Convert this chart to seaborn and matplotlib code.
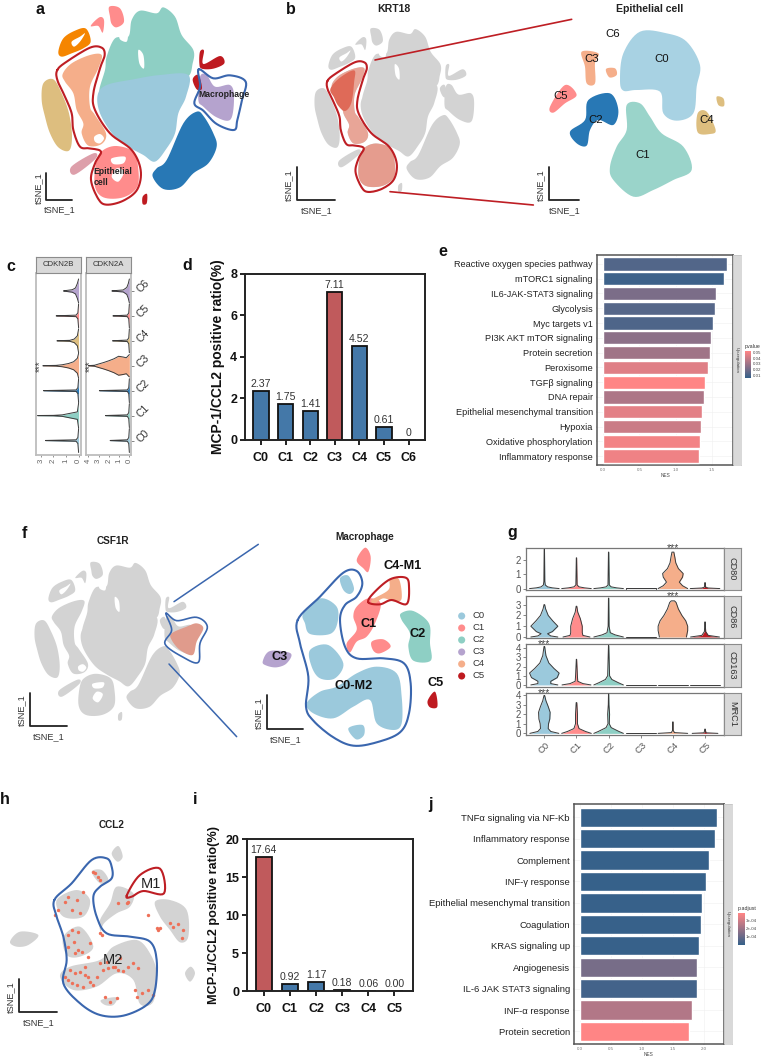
import numpy as np
import matplotlib
matplotlib.use("Agg")
import matplotlib.pyplot as plt
import seaborn as sns
from matplotlib.colors import LinearSegmentedColormap

sns.set_theme(style="white")
plt.rcParams['font.family'] = ['Liberation Sans', 'DejaVu Sans']

W, H = 764, 1057
fig = plt.figure(figsize=(W / 100, H / 100), dpi=100)


def px_axes(x0, y0, x1, y1, **kw):
    return fig.add_axes([x0 / W, 1 - y1 / H, (x1 - x0) / W, (y1 - y0) / H], **kw)


def smooth(pts, n=8):
    # closed curve through the hand-read outline points
    p = np.array(pts, dtype=float)
    t = np.linspace(0, 1, n, endpoint=False)[:, None]
    out = []
    for i in range(len(p)):
        a, b, c, d = p[i - 1], p[i], p[(i + 1) % len(p)], p[(i + 2) % len(p)]
        out.append(0.5 * (2 * b + (c - a) * t + (2 * a - 5 * b + 4 * c - d) * t ** 2 + (3 * b - a - 3 * c + d) * t ** 3))
    p = np.vstack(out)
    return np.vstack([p, p[:1]])


def blob(ax, pts, color, zorder=2):
    s = smooth(pts)
    ax.fill(s[:, 0], s[:, 1], color=color, lw=0, zorder=zorder)


def outline(ax, pts, color, lw=1.5, zorder=5):
    s = smooth(pts)
    ax.plot(s[:, 0], s[:, 1], color=color, lw=lw, zorder=zorder, solid_capstyle='round')


def scale_bar(ax, x0, y0, x1, y1, color='#222222', fs=6.6):
    ax.plot([x0, x0, x1], [y0, y1, y1], color=color, lw=1.3, zorder=6)
    ax.text((x0 + x1) / 2 + 2, y1 + (y1 - y0) * 0.13 + 6, 'tSNE_1', ha='center', va='top', fontsize=fs, color='#333333')
    ax.text(x0 - (x1 - x0) * 0.08 - 3, (y0 + y1) / 2 + 3, 'tSNE_1', ha='right', va='center', rotation=90, fontsize=fs, color='#333333')


def overlay(x0, y0, x1, y1):
    ax = px_axes(x0, y0, x1, y1)
    ax.set_xlim(0, (x1 - x0) * 3)
    ax.set_ylim((y1 - y0) * 3, 0)
    ax.axis('off')
    ax.patch.set_alpha(0)
    return ax


# ---- colours
col_teal, col_lblue, col_orange, col_tan = '#8ECFC4', '#9BC9DC', '#F58500', '#DDBE7F'
col_peach, col_salmon, col_dusty, col_blue = '#F5AE8A', '#FF8C8C', '#DD9FAA', '#2878B5'
col_lav, col_dred = '#B5A3CE', '#BE1A20'
col_gray = '#D3D3D3'
bar_blue, bar_red = '#4478A8', '#C05A5C'
line_red, line_blue = '#BE1E24', '#3A66AE'
low_col, high_col = '#36618A', '#FF8585'

# ---- global tSNE cluster outlines
ts_teal = [(320, 170), (345, 115), (385, 110), (395, 60), (420, 32), (470, 40), (490, 22), (525, 50), (545, 105), (580, 150), (578, 190), (560, 232), (480, 232), (400, 245), (330, 270), (298, 275), (315, 210)]
ts_lblue = [(293, 285), (320, 255), (400, 238), (480, 225), (565, 225), (558, 290), (535, 340), (525, 400), (500, 445), (465, 485), (430, 465), (385, 440), (340, 405), (300, 340)]
ts_orange = [(175, 155), (190, 115), (225, 92), (258, 86), (272, 125), (250, 145), (215, 160), (185, 170)]
ts_tan = [(125, 300), (130, 250), (160, 238), (185, 280), (207, 340), (216, 410), (207, 452), (175, 442), (150, 400), (135, 350)]
ts_peach = [(188, 222), (215, 190), (270, 165), (305, 165), (295, 205), (270, 260), (270, 320), (285, 345), (318, 400), (305, 432), (265, 437), (245, 400), (250, 370), (230, 330), (220, 280), (195, 245)]
ts_salmon = [(310, 450), (350, 438), (400, 455), (414, 500), (412, 560), (370, 592), (310, 592), (284, 555), (290, 480)]
ts_pink1 = [(328, 20), (360, 25), (372, 65), (350, 82), (335, 72), (330, 50)]
ts_pink2 = [(272, 78), (298, 52), (312, 60), (308, 98), (295, 78)]
ts_dusty = [(214, 500), (280, 460), (287, 476), (224, 524)]
ts_dblue = [(500, 480), (550, 370), (590, 335), (612, 350), (640, 400), (650, 440), (625, 490), (580, 520), (540, 562), (490, 567), (458, 530), (470, 505)]
ts_lav = [(600, 230), (620, 225), (645, 260), (690, 255), (702, 290), (692, 358), (650, 352), (610, 320), (595, 300)]
ts_dred1 = [(600, 155), (612, 152), (610, 192), (660, 168), (673, 190), (640, 206), (605, 206), (598, 190)]
ts_dred2 = [(578, 238), (595, 225), (606, 265), (590, 268)]
ts_dred3 = [(428, 590), (441, 582), (440, 610), (428, 612)]
ts_clusters = [ts_teal, ts_lblue, ts_orange, ts_tan, ts_peach, ts_salmon, ts_pink1, ts_pink2, ts_dusty, ts_dblue, ts_lav, ts_dred1, ts_dred2, ts_dred3]
ts_colors = [col_teal, col_lblue, col_orange, col_tan, col_peach, col_salmon, col_salmon, col_salmon, col_dusty, col_blue, col_lav, col_dred, col_dred, col_dred]
ts_holes = [[(283, 410), (300, 402), (312, 415), (300, 430), (285, 425)], [(335, 475), (375, 470), (370, 490), (340, 492)],
            [(350, 505), (372, 515), (355, 545), (335, 530)], [(415, 150), (430, 165), (432, 205), (418, 190)],
            [(360, 100), (382, 100), (380, 125), (360, 118)], [(215, 125), (240, 110), (255, 100), (240, 125), (222, 140)]]
epi_outline = [(172, 210), (200, 185), (270, 143), (305, 143), (314, 165), (300, 205), (280, 280), (285, 330), (330, 400), (395, 450), (422, 510), (412, 568), (370, 602), (320, 614), (295, 597), (273, 540), (285, 490), (303, 455), (270, 445), (240, 440), (220, 390), (215, 340), (195, 290), (172, 240)]
mac_outline = [(596, 208), (640, 235), (690, 226), (737, 245), (726, 300), (712, 360), (702, 390), (650, 372), (610, 332), (583, 310), (600, 260)]

# ---- panel a
ax_a = overlay(0, 0, 270, 235)
for pts, c in zip(ts_clusters, ts_colors):
    blob(ax_a, pts, c)
for pts in ts_holes:
    blob(ax_a, pts, 'white', zorder=3)
outline(ax_a, epi_outline, line_red)
outline(ax_a, mac_outline, line_blue)
ax_a.text(595, 283, 'Macrophage', fontsize=6.2, fontweight='bold', va='center', color='#222222', zorder=7)
ax_a.text(281, 530, 'Epithelial\ncell', fontsize=6.2, fontweight='bold', va='center', color='#222222', linespacing=1.3, zorder=7)
scale_bar(ax_a, 137, 520, 215, 600)

# ---- panel b, left: same map, KRT18 feature colouring
krt_hot = [(182, 240), (215, 200), (268, 172), (268, 215), (258, 290), (235, 320), (210, 300), (195, 270)]
ax_bl = px_axes(280, 23, 504, 217)
ax_bl.set_xlim(0, 810)
ax_bl.set_ylim(705, 0)
ax_bl.axis('off')
for pts in ts_clusters:
    blob(ax_bl, pts, col_gray)
for pts in ts_holes:
    blob(ax_bl, pts, 'white', zorder=3)
blob(ax_bl, ts_peach, '#E8A597', zorder=3)
blob(ax_bl, ts_salmon, '#E59C8E', zorder=3)
blob(ax_bl, krt_hot, '#DF6A58', zorder=4)
outline(ax_bl, epi_outline, line_red, zorder=6)

# ---- panel b, right: epithelial subclusters (read in a 3x grid of this region)
ep_c0 = [(1050, 240), (1060, 160), (1110, 95), (1190, 100), (1250, 125), (1290, 195), (1280, 260), (1270, 340), (1220, 362), (1180, 340), (1170, 275), (1100, 270), (1060, 272)]
ep_c1 = [(1070, 315), (1110, 310), (1140, 350), (1175, 400), (1240, 440), (1265, 510), (1210, 540), (1150, 570), (1090, 590), (1030, 540), (1020, 500), (1040, 440), (1070, 390)]
ep_c2 = [(955, 300), (1020, 280), (1045, 330), (1030, 375), (985, 360), (960, 390), (950, 437), (920, 430), (900, 395), (945, 360)]
ep_c3a = [(935, 155), (985, 160), (975, 190), (975, 250), (950, 250), (945, 200)]
ep_c3b = [(1008, 207), (1035, 205), (1040, 225), (1018, 232)]
ep_c4a = [(1283, 340), (1310, 335), (1337, 390), (1320, 402), (1283, 397)]
ep_c4b = [(1340, 290), (1360, 295), (1362, 318), (1345, 315)]
ep_c5 = [(840, 320), (885, 255), (920, 285), (885, 310), (850, 338)]
ep_labels = ['C0', 'C1', 'C2', 'C3', 'C4', 'C5', 'C6']
ep_label_x = [1176, 1118, 978, 966, 1310, 873, 1027]
ep_label_y = [178, 465, 360, 178, 360, 288, 102]

ov_b = overlay(270, 0, 764, 235)
blob(ov_b, ep_c0, '#A8D2E3')
blob(ov_b, ep_c1, '#9AD4CA')
blob(ov_b, ep_c2, col_blue)
blob(ov_b, ep_c3a, col_peach)
blob(ov_b, ep_c3b, col_peach)
blob(ov_b, ep_c4a, col_tan)
blob(ov_b, ep_c4b, col_tan)
blob(ov_b, ep_c5, col_salmon)
for t, x, y in zip(ep_labels, ep_label_x, ep_label_y):
    ov_b.text(x, y, t, fontsize=8.2, ha='center', va='center', color='#111111', zorder=7)
ov_b.plot([315, 905], [180, 58], color=line_red, lw=1.2, zorder=7)
ov_b.plot([360, 790], [575, 615], color=line_red, lw=1.2, zorder=7)
ov_b.text(372, 27, 'KRT18', fontsize=7.6, fontweight='bold', ha='center', va='center', color='#222222')
ov_b.text(1140, 27, 'Epithelial cell', fontsize=7.6, fontweight='bold', ha='center', va='center', color='#222222')
scale_bar(ov_b, 82, 502, 195, 600)
scale_bar(ov_b, 836, 502, 928, 600)

# ---- panel c: horizontal violins, each pair is (expression, half width)
c_labels = ['C0', 'C1', 'C2', 'C3', 'C4', 'C5', 'C6']
c_colors = [col_lblue, col_teal, col_blue, col_peach, col_tan, col_salmon, col_lav]
cdkn2b_ends = [2.63, 3.26, 2.79, 2.84, 1.72, 1.78, 1.2]
cdkn2a_ends = [1.87, 2.33, 2.92, 4.0, 1.64, 1.6, 1.7]
cdkn2b_c1 = [(0, .5), (.1, .15), (.3, .13), (.8, .08), (1.3, .03), (2, .01), (3.26, .004)]
cdkn2b_c3 = [(0, .5), (.1, .3), (.4, .16), (.8, .09), (1.3, .04), (1.8, .015), (2.84, .005)]
cdkn2b_c4 = [(0, .48), (.1, .2), (.35, .07), (.7, .02), (1.72, .004)]
cdkn2b_c6 = [(0, .48), (.1, .3), (.25, .12), (.5, .05), (1.2, .005)]
cdkn2a_c3 = [(0, .45), (.3, .32), (.6, .35), (1.05, .38), (1.5, .28), (2, .2), (2.5, .13), (3, .07), (3.4, .02), (4, .005)]
cdkn2a_c6 = [(0, .48), (.1, .3), (.25, .14), (.6, .04), (1.7, .005)]


def thin_violin(end):
    return [(0, .48), (.06, .12), (.2, .03), (end, .004)]


def draw_violin(ax, pos, profile, color, horizontal=False):
    v = np.array([p[0] for p in profile])
    w = np.array([p[1] for p in profile])
    if horizontal:
        ax.fill_between(v, pos - w, pos + w, color=color, lw=0, zorder=2)
        ax.plot(np.r_[v, v[::-1]], np.r_[pos - w, (pos + w)[::-1]], color='#3A3A3A', lw=0.7, zorder=3)
    else:
        ax.fill_betweenx(v, pos - w, pos + w, color=color, lw=0, zorder=2)
        ax.plot(np.r_[pos - w, (pos + w)[::-1]], np.r_[v, v[::-1]], color='#3A3A3A', lw=0.7, zorder=3)


def strip(x0, y0, x1, y1, text, rotation=0, fs=5.6, color='#D9D9D9', edge='#8C8C8C', lw=0.8):
    s = px_axes(x0, y0, x1, y1)
    s.set_facecolor(color)
    s.set_xticks([])
    s.set_yticks([])
    for sp in s.spines.values():
        sp.set_color(edge)
        sp.set_linewidth(lw)
    s.text(0.5, 0.5, text, transform=s.transAxes, ha='center', va='center', rotation=rotation, fontsize=fs, color='#333333')
    return s


special_b = {1: cdkn2b_c1, 3: cdkn2b_c3, 4: cdkn2b_c4, 6: cdkn2b_c6}
special_a = {3: cdkn2a_c3, 6: cdkn2a_c6}
for box, gene, ends, special, lim, ticks in [((36, 273, 81, 455), 'CDKN2B', cdkn2b_ends, special_b, (3.39, -.19), [3, 2, 1, 0]),
                                             ((86, 273, 131, 455), 'CDKN2A', cdkn2a_ends, special_a, (4.23, -.16), [4, 3, 2, 1, 0])]:
    ax = px_axes(*box)
    for i, end in enumerate(ends):
        draw_violin(ax, i, special.get(i, thin_violin(end)), c_colors[i], horizontal=True)
    ax.set_xlim(*lim)
    ax.set_ylim(-0.58, 6.72)
    ax.set_xticks(ticks)
    ax.set_xticklabels(ticks, rotation=90, fontsize=5.6, color='#666666')
    ax.tick_params(axis='x', length=1.5, width=.5, pad=1, color='#666666', bottom=True)
    ax.spines['top'].set_visible(False)
    for k in ['left', 'right', 'bottom']:
        ax.spines[k].set_color('#BDBDBD')
        ax.spines[k].set_linewidth(1.3)
    if gene == 'CDKN2A':
        ax.yaxis.tick_right()
        ax.set_yticks(range(7))
        ax.set_yticklabels(c_labels, rotation=45, rotation_mode='anchor', fontsize=7.6, color='#333333', va='center', ha='left')
        ax.tick_params(axis='y', length=2, width=.5, pad=3, right=True, color='#555555')
    else:
        ax.set_yticks([])
    ax.text(lim[0] - (lim[0] - lim[1]) * 0.095, 3, '***', rotation=90, fontsize=7, ha='center', va='center', color='#444444')
    strip(box[0], 257, box[2], 273, gene)


# ---- bars d and i
def ratio_bars(box, labels, values, hot, fmt, ylim, yticks, xlim, yfs):
    ax = px_axes(*box)
    d_colors = [bar_red if i == hot else bar_blue for i in range(len(labels))]
    sns.barplot(x=labels, y=values, hue=labels, palette=d_colors, legend=False, ax=ax, width=0.62,
                edgecolor='#111111', linewidth=1.3, saturation=1)
    for i, (v, t) in enumerate(zip(values, fmt)):
        ax.text(i, v + ylim[1] * 0.012, t, ha='center', va='bottom', fontsize=7.6, color='#333333')
    ax.set_xlim(*xlim)
    ax.set_ylim(*ylim)
    ax.set_yticks(yticks)
    ax.set_ylabel('MCP-1/CCL2 positive ratio(%)', fontsize=yfs, fontweight='bold', color='#111111', labelpad=4)
    ax.tick_params(axis='x', length=3.5, width=1.3, color='#111111', bottom=True, pad=5)
    ax.tick_params(axis='y', length=3.5, width=1.3, color='#111111', left=True, pad=2)
    for lab in ax.get_xticklabels() + ax.get_yticklabels():
        lab.set_fontweight('bold')
        lab.set_fontsize(9)
        lab.set_color('#111111')
    for sp in ax.spines.values():
        sp.set_color('#222222')
        sp.set_linewidth(1.4)
    return ax


d_labels = ['C0', 'C1', 'C2', 'C3', 'C4', 'C5', 'C6']
d_values = [2.37, 1.75, 1.41, 7.11, 4.52, 0.61, 0]
d_text = ['2.37', '1.75', '1.41', '7.11', '4.52', '0.61', '0']
ratio_bars((245, 273.5, 425, 440), d_labels, d_values, 3, d_text, (0, 8), [0, 2, 4, 6, 8], (-.65, 6.67), 10)

i_labels = ['C0', 'C1', 'C2', 'C3', 'C4', 'C5']
i_values = [17.64, 0.92, 1.17, 0.18, 0.06, 0.00]
i_text = ['17.64', '0.92', '1.17', '0.18', '0.06', '0.00']
ratio_bars((246.7, 839, 412.7, 991), i_labels, i_values, 0, i_text, (0, 20), [0, 5, 10, 15, 20], (-.65, 5.7), 9.1)


# ---- GSEA bars e and j
def gsea_bars(box, terms, nes, pvals, vmin, vmax, xlim, xticks, strip_w, fs):
    ax = px_axes(*box)
    cmap = LinearSegmentedColormap.from_list('gsea', [low_col, high_col])
    colors = [cmap((p - vmin) / (vmax - vmin)) for p in pvals]
    sns.barplot(x=nes, y=terms, hue=terms, palette=colors, legend=False, ax=ax, width=0.9, saturation=1, orient='h', zorder=3)
    ax.set_xlim(*xlim)
    ax.set_ylim(len(terms) - 0.4, -0.6)
    ax.set_xticks(xticks)
    ax.set_xticklabels(['%.1f' % t for t in xticks], fontsize=3.2, color='#777777')
    ax.tick_params(axis='x', length=1, width=.3, pad=1, bottom=True, color='#777777')
    ax.tick_params(axis='y', length=1, width=.3, pad=2, left=True, color='#777777')
    ax.set_xlabel('NES', fontsize=3.4, color='#444444', labelpad=1)
    ax.set_ylabel('')
    ax.grid(True, color='#F0F0F0', lw=.4)
    ax.set_axisbelow(True)
    for lab in ax.get_yticklabels():
        lab.set_fontsize(fs)
        lab.set_color('#222222')
    for sp in ax.spines.values():
        sp.set_color('#555555')
        sp.set_linewidth(1.1)
    strip(box[2], box[1], box[2] + strip_w, box[3], 'Up-regulation', rotation=-90, fs=3.2, edge='#BBBBBB', lw=.4)
    return cmap


def gsea_legend(x0, y0, x1, y1, cmap, title, labels, fracs):
    cb = px_axes(x0, y0, x1, y1)
    cb.imshow(np.linspace(1, 0, 64)[:, None], aspect='auto', cmap=cmap, extent=(0, 1, 0, 1))
    cb.set_xticks([])
    cb.yaxis.tick_right()
    cb.set_yticks(fracs)
    cb.set_yticklabels(labels, fontsize=3.2, color='#444444')
    cb.tick_params(axis='y', length=0, pad=1)
    for sp in cb.spines.values():
        sp.set_visible(False)
    cb.text(0, 1.06, title, transform=cb.transAxes, fontsize=3.8, color='#333333', va='bottom', ha='left')


e_terms = ['Reactive oxygen species pathway', 'mTORC1 signaling', 'IL6-JAK-STAT3 signaling', 'Glycolysis', 'Myc targets v1',
           'PI3K AKT mTOR signaling', 'Protein secretion', 'Peroxisome', 'TGFβ signaling', 'DNA repair',
           'Epithelial mesenchymal transition', 'Hypoxia', 'Oxidative phosphorylation', 'Inflammatory response']
e_nes = [1.71, 1.67, 1.56, 1.55, 1.52, 1.49, 1.48, 1.45, 1.41, 1.39, 1.36, 1.35, 1.34, 1.33]
e_pval = [.008, .003, .018, .009, .007, .022, .027, .042, .05, .03, .043, .037, .047, .046]
cm_e = gsea_bars((597, 255, 733.3, 465), e_terms, e_nes, e_pval, .001, .05, (-.087, 1.8), [0, .5, 1, 1.5], 7.5, 6.6)
gsea_legend(745, 351, 751, 378, cm_e, 'pvalue', ['0.05', '0.04', '0.03', '0.02', '0.01'], [.95, .74, .52, .31, .1])

j_terms = ['TNFα signaling via NF-Kb', 'Inflammatory response', 'Complement', 'INF-γ response', 'Epithelial mesenchymal transition',
           'Coagulation', 'KRAS signaling up', 'Angiogenesis', 'IL-6 JAK STAT3 signaling', 'INF-α response', 'Protein secretion']
j_nes = [2.22, 2.18, 2.09, 2.04, 1.98, 1.96, 1.93, 1.90, 1.90, 1.82, 1.76]
j_padj = [1e-6, 1e-6, 1e-6, 1e-6, 2e-6, 2e-6, 3e-6, 1.25e-4, 2.5e-5, 2.4e-4, 3.9e-4]
cm_j = gsea_bars((574, 804.3, 724, 1044.3), j_terms, j_nes, j_padj, 0, 3.9e-4, (-.097, 2.33), [0, .5, 1, 1.5, 2], 7.7, 6.8)
gsea_legend(737.7, 913, 744, 945, cm_j, 'p.adjust', ['3e-04', '2e-04', '1e-04'], [.78, .53, .28])

# ---- panel f, left: same map, CSF1R
ax_fl = px_axes(0, 557, 224, 745)
ax_fl.set_xlim(0, 810)
ax_fl.set_ylim(705, 0)
ax_fl.axis('off')
for pts in ts_clusters:
    blob(ax_fl, pts, col_gray)
for pts in ts_holes:
    blob(ax_fl, pts, 'white', zorder=3)

# ---- panel f, right: macrophage subclusters
mac_c0a = [(1020, 205), (1045, 197), (1062, 235), (1050, 252), (1030, 240)]
mac_c0b = [(910, 310), (960, 265), (1010, 290), (1012, 340), (990, 372), (930, 372), (915, 340)]
mac_c0c = [(930, 420), (985, 405), (1030, 460), (1005, 505), (960, 505), (935, 470)]
mac_c0d = [(920, 580), (960, 545), (1010, 530), (1070, 490), (1130, 470), (1190, 490), (1205, 560), (1205, 640), (1180, 660), (1130, 640), (1110, 570), (1060, 590), (1000, 625), (940, 610)]
mac_c0e = [(1045, 655), (1088, 645), (1092, 675), (1068, 688)]
mac_c1a = [(1070, 150), (1095, 113), (1112, 140), (1105, 185), (1090, 175)]
mac_c1b = [(1070, 290), (1105, 265), (1142, 280), (1125, 340), (1100, 380), (1070, 395), (1050, 427), (1040, 400), (1070, 360), (1060, 320)]
mac_c1c = [(1115, 395), (1150, 388), (1172, 410), (1140, 430), (1120, 422)]
mac_c2 = [(1203, 310), (1240, 303), (1287, 340), (1290, 400), (1292, 452), (1240, 452), (1225, 410), (1230, 370), (1205, 330)]
mac_c3 = [(788, 455), (810, 423), (872, 430), (860, 460), (830, 472), (800, 467)]
mac_c4 = [(1115, 270), (1165, 240), (1170, 208), (1197, 208), (1205, 265), (1185, 275), (1150, 265), (1125, 280)]
mac_c5 = [(1283, 572), (1305, 545), (1312, 590), (1290, 592)]
mac_blue_outline = [(893, 330), (960, 260), (1030, 188), (1070, 183), (1087, 220), (1070, 260), (1035, 285), (1020, 330), (1035, 410), (1070, 445), (1150, 445), (1212, 460), (1232, 520), (1227, 610), (1200, 667), (1130, 697), (1060, 707), (1000, 682), (940, 632), (918, 590), (925, 500), (900, 400)]
mac_red_outline = [(1105, 277), (1120, 250), (1170, 208), (1217, 203), (1227, 230), (1220, 282), (1175, 270), (1140, 283)]
csf1r_outline = [(498, 310), (530, 332), (590, 322), (622, 350), (600, 400), (595, 457), (550, 442), (495, 402), (515, 360)]
csf1r_patch = [(515, 370), (560, 350), (590, 340), (610, 355), (590, 395), (578, 435), (540, 420), (515, 390)]
mac_legend = ['C0', 'C1', 'C2', 'C3', 'C4', 'C5']
mac_legend_col = [col_lblue, col_salmon, col_teal, col_lav, col_peach, col_dred]
mac_legend_y = [318, 354, 390, 426, 462, 498]

ov_f = overlay(0, 510, 500, 755)
blob(ov_f, csf1r_patch, '#E09B8C', zorder=3)
outline(ov_f, csf1r_outline, line_blue, lw=1.2)
for pts in [mac_c0a, mac_c0b, mac_c0c, mac_c0d, mac_c0e]:
    blob(ov_f, pts, col_lblue)
for pts in [mac_c1a, mac_c1b, mac_c1c]:
    blob(ov_f, pts, col_salmon)
blob(ov_f, mac_c2, col_teal)
blob(ov_f, mac_c3, col_lav)
blob(ov_f, mac_c4, col_peach)
blob(ov_f, mac_c5, col_dred)
outline(ov_f, mac_blue_outline, line_blue)
outline(ov_f, mac_red_outline, line_red)
ov_f.plot([522, 775], [275, 103], color=line_blue, lw=1.1)
ov_f.plot([507, 710], [462, 680], color=line_blue, lw=1.1)
ov_f.text(340, 92, 'CSF1R', fontsize=7.2, fontweight='bold', ha='center', va='center', color='#222222')
ov_f.text(1093, 82, 'Macrophage', fontsize=7.2, fontweight='bold', ha='center', va='center', color='#222222')
for t, x, y, fs in [('C4-M1', 1208, 168, 9.2), ('C1', 1105, 343, 9.2), ('C2', 1254, 371, 9.2), ('C3', 838, 442, 9.2), ('C0-M2', 1062, 528, 9.2), ('C5', 1306, 520, 9.2)]:
    ov_f.text(x, y, t, fontsize=fs, fontweight='bold', ha='center', va='center', color='#111111', zorder=7)
sns.scatterplot(x=[1385] * 6, y=mac_legend_y, hue=mac_legend, palette=mac_legend_col, legend=False, s=26, linewidth=0, ax=ov_f)
for t, y in zip(mac_legend, mac_legend_y):
    ov_f.text(1418, y, t, fontsize=6.8, va='center', color='#333333')
ov_f.set_xlim(0, 1500)
ov_f.set_ylim(735, 0)
ov_f.axis('off')
scale_bar(ov_f, 90, 548, 200, 648)
scale_bar(ov_f, 802, 556, 910, 656)

# ---- panel g: stacked violins
g_genes = ['CD80', 'CD86', 'CD163', 'MRC1']
g_labels = ['C0', 'C1', 'C2', 'C3', 'C4', 'C5']
g_colors = [col_lblue, col_salmon, col_teal, col_lav, col_peach, col_dred]
flat_line = [(0, .46), (.02, .46)]
cd80_c0 = [(0, .46), (.05, .25), (.12, .1), (.25, .03), (.5, .015), (2.75, .005)]
cd80_c1 = [(0, .46), (.05, .25), (.12, .08), (.25, .02), (2.15, .005)]
cd80_c2 = [(0, .46), (.05, .25), (.12, .08), (.25, .02), (2.55, .005)]
cd80_c4 = [(0, .46), (.2, .3), (.45, .2), (.8, .3), (1.05, .32), (1.4, .17), (1.8, .09), (2.2, .06), (2.55, .03)]
cd80_c5 = [(0, .46), (.04, .1), (.1, .02), (.42, .004)]
cd86_c0 = [(0, .42), (.1, .2), (.3, .1), (.5, .25), (1, .42), (1.5, .26), (2, .12), (2.6, .04), (3.0, .01)]
cd86_c1 = [(0, .42), (.15, .2), (.4, .18), (1, .18), (1.7, .12), (2.3, .04), (2.85, .01)]
cd86_c2 = [(0, .46), (.2, .2), (.4, .05), (1, .015), (3.6, .005)]
cd86_c4 = [(0, .42), (.6, .46), (1, .46), (1.5, .4), (2, .28), (2.6, .17), (3.2, .1), (3.35, .05)]
cd86_c5 = [(0, .45), (.15, .1), (.5, .02), (1.4, .005)]
cd163_c0 = [(0, .42), (.15, .2), (.4, .2), (.8, .4), (1.3, .46), (1.8, .3), (2.4, .14), (3.2, .05), (4.2, .01)]
cd163_c1 = [(0, .45), (.15, .2), (.4, .04), (.9, .03), (2.8, .005)]
cd163_c2 = [(0, .46), (.25, .3), (.6, .1), (1., .03), (4.3, .005)]
mrc1_c0 = [(0, .45), (.2, .2), (.5, .12), (1, .13), (1.5, .17), (2.2, .18), (2.8, .12), (3.4, .05), (3.95, .01)]
mrc1_c1 = [(0, .46), (.2, .28), (.5, .08), (1, .03), (2, .03), (3.2, .01)]
mrc1_c2 = [(0, .46), (.2, .32), (.6, .08), (1, .02), (2, .03), (3, .01), (4.1, .004)]
mrc1_c4 = [(0, .46), (.08, .05), (.3, .01), (1.2, .005)]
mrc1_c5 = [(0, .4), (.06, .03), (.45, .004)]
g_profiles = [[cd80_c0, cd80_c1, cd80_c2, flat_line, cd80_c4, cd80_c5],
              [cd86_c0, cd86_c1, cd86_c2, flat_line, cd86_c4, cd86_c5],
              [cd163_c0, cd163_c1, cd163_c2, flat_line, flat_line, flat_line],
              [mrc1_c0, mrc1_c1, mrc1_c2, flat_line, mrc1_c4, mrc1_c5]]
g_ylims = [(-.1, 2.86), (-.12, 3.8), (-.18, 4.44), (-.17, 4.24)]
g_ticks = [[0, 1, 2], [0, 1, 2, 3], [0, 1, 2, 3, 4], [0, 1, 2, 3, 4]]
g_tops = [547.7, 596, 644.3, 692.7]
g_stars = [4, 4, 0, 0]

for r, gene in enumerate(g_genes):
    ax = px_axes(525.7, g_tops[r], 724, g_tops[r] + 42.3)
    for i, prof in enumerate(g_profiles[r]):
        draw_violin(ax, i, prof, g_colors[i])
    ax.set_xlim(-.58, 5.59)
    ax.set_ylim(*g_ylims[r])
    ax.set_yticks(g_ticks[r])
    ax.tick_params(axis='y', labelsize=7, labelcolor='#555555', length=2, width=.5, pad=1.5, left=True, color='#555555')
    ax.set_xticks(range(6))
    if r == 3:
        ax.set_xticklabels(g_labels, rotation=45, fontsize=6.8, color='#555555', ha='center')
        ax.tick_params(axis='x', length=2, width=.5, pad=2, bottom=True, color='#555555')
    else:
        ax.set_xticklabels([])
        ax.tick_params(axis='x', length=0)
    for sp in ax.spines.values():
        sp.set_color('#777777')
        sp.set_linewidth(.9)
    ax.text(g_stars[r], 1.0, '***', transform=ax.get_xaxis_transform(), ha='center', va='center', fontsize=7.5, color='#444444', clip_on=False)
    strip(724, g_tops[r], 741, g_tops[r] + 42.3, gene, rotation=-90, fs=6.6)

# ---- panel h: macrophages, CCL2 positive cells over grey cells
h_top = [(335, 280), (355, 258), (368, 290), (352, 305)]
h_left = [(30, 545), (60, 515), (115, 525), (85, 555), (50, 560)]
h_right = [(555, 640), (572, 620), (585, 640), (570, 665)]
h_c1 = [(330, 430), (350, 380), (400, 400), (390, 440), (350, 460), (312, 490), (302, 515), (300, 480)]
h_c2 = [(465, 425), (510, 420), (560, 450), (565, 530), (540, 547), (510, 510), (480, 470)]
h_c0a = [(170, 420), (230, 390), (270, 420), (250, 470), (190, 470)]
h_c0b = [(190, 530), (240, 500), (280, 560), (240, 590), (200, 585)]
h_c0c = [(180, 650), (210, 620), (300, 600), (340, 560), (410, 540), (450, 580), (470, 640), (460, 725), (420, 732), (400, 660), (350, 640), (290, 680), (220, 690)]
h_c0d = [(303, 720), (350, 712), (340, 735), (315, 735)]
h_c0e = [(275, 335), (305, 330), (325, 360), (300, 370)]
ccl2_x = [285, 295, 280, 300, 175, 165, 215, 250, 230, 205, 240, 195, 215, 235, 205, 222, 270, 300, 305, 245, 265, 205, 235,
          210, 225, 240, 255, 265, 205, 215, 230, 250, 195, 270, 290, 310, 325, 340, 355, 370, 385, 400, 415, 300, 320, 345, 360, 405, 445, 460, 410, 425, 315, 330,
          350, 380, 510, 535, 550, 520, 545, 480, 475, 470, 445, 355, 385, 280, 255, 225]
ccl2_y = [340, 350, 335, 360, 450, 465, 450, 395, 420, 410, 460, 425, 510, 515, 525, 545, 550, 520, 525, 575, 590, 560, 570,
          630, 640, 635, 645, 650, 660, 670, 675, 680, 650, 665, 650, 630, 625, 620, 630, 632, 620, 610, 625, 610, 605, 620, 595, 690, 690, 705, 710, 700, 710, 725,
          715, 430, 490, 492, 510, 500, 535, 505, 510, 505, 465, 430, 425, 675, 620, 580]

ov_h = overlay(0, 760, 420, 1057)
for pts in [h_top, h_left, h_right, h_c1, h_c2, h_c0a, h_c0b, h_c0c, h_c0d, h_c0e]:
    blob(ov_h, pts, col_gray)
sns.scatterplot(x=ccl2_x, y=ccl2_y, color='#EE7058', s=6, linewidth=0, ax=ov_h, zorder=4)
ov_h.set_xlim(0, 1260)
ov_h.set_ylim(891, 0)
ov_h.axis('off')
h_blue = [(163, 420), (215, 370), (275, 300), (320, 295), (335, 320), (335, 355), (300, 380), (280, 410), (290, 470), (320, 520), (390, 530), (450, 545), (470, 600), (465, 690), (440, 735), (370, 767), (300, 765), (240, 730), (190, 670), (200, 600), (190, 530), (170, 470)]
h_red = [(380, 407), (420, 345), (480, 326), (492, 400), (430, 393), (395, 410)]
outline(ov_h, h_blue, line_blue)
outline(ov_h, h_red, line_red)
ov_h.text(452, 372, 'M1', fontsize=10.5, ha='center', va='center', color='#222222', zorder=7)
ov_h.text(338, 600, 'M2', fontsize=10.5, ha='center', va='center', color='#222222', zorder=7)
ov_h.text(335, 195, 'CCL2', fontsize=7.2, fontweight='bold', ha='center', va='center', color='#222222')
scale_bar(ov_h, 57, 657, 170, 757)

# ---- panel letters
for t, x, y in [('a', 40, 9), ('b', 291, 9), ('c', 11, 267), ('d', 187, 266), ('e', 443, 252), ('f', 24, 533),
                ('g', 512, 532), ('h', 5, 800), ('i', 195, 800), ('j', 431, 804)]:
    fig.text(x / W, 1 - y / H, t, fontsize=11.5, fontweight='bold', ha='center', va='center', color='#111111')

fig.savefig('out.png', dpi=100)
